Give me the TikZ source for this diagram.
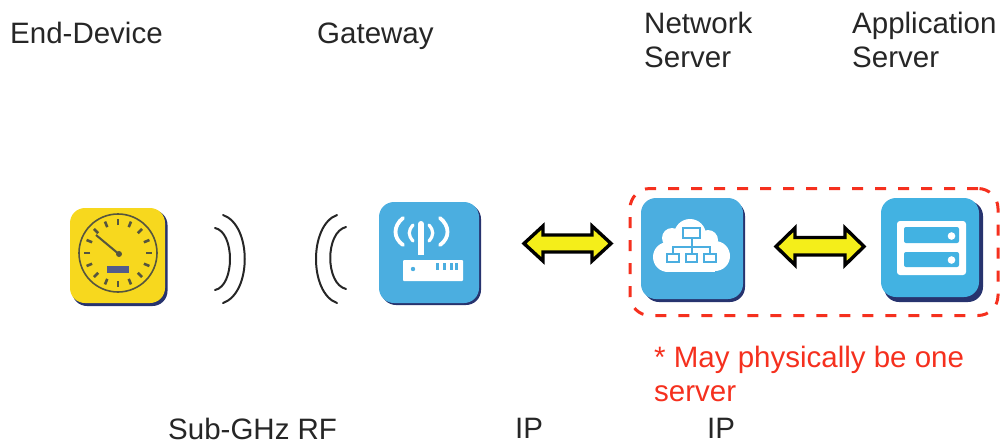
\documentclass[tikz,border=0pt]{standalone}
\usepackage{fontspec}
\setmainfont{Liberation Sans}
\definecolor{icoblue}{HTML}{4BAEE0}
\definecolor{icoblue2}{HTML}{42B2E2}
\definecolor{icoshadow}{HTML}{27336E}
\definecolor{icoyellow}{HTML}{F7D81E}
\definecolor{dialc}{HTML}{55553F}
\definecolor{redd}{HTML}{F5301E}
\definecolor{arrowy}{HTML}{F4EE1A}
\tikzset{
  x=1pt,y=-1pt,
  lbl/.style={font=\fontsize{29.5}{34}\selectfont,text=black!85,inner sep=0pt,align=left,anchor=west},
  rednote/.style={font=\fontsize{29.5}{34}\selectfont,text=redd,inner sep=0pt,align=left,anchor=west},
  dbl/.style={draw=black,line width=3.4pt,fill=arrowy,line join=miter},
  icon/.style={rounded corners=15pt,fill=icoblue},
  shadow/.style={rounded corners=15pt,fill=icoshadow},
  wave/.style={draw=black!85,line width=2pt,line cap=round},
}
\begin{document}
\begin{tikzpicture}
\useasboundingbox (0,0) rectangle (1000,445);
% labels
\node[lbl] (t1) at (10,33) {End-Device};
\node[lbl] (t2) at (317,36) {Gateway};
\node[lbl] (t3) at (644,40) {Network\\Server};
\node[lbl] (t4) at (852,40) {Application\\Server};
\node[lbl] (t5) at (168,429) {Sub-GHz RF};
\node[lbl] (t6) at (515,428) {IP};
\node[lbl] (t7) at (707,428) {IP};
\node[rednote] (t8) at (654,374) {* May physically be one\\server};
% meter icon
\fill[shadow] (72,210) rectangle (167.5,306);
\fill[rounded corners=15pt,fill=icoyellow] (70,208) rectangle (165,303);
\draw[dialc,line width=1.6pt] (118,253) circle (39);
\foreach \a in {0,22.5,...,359}{
  \draw[dialc,line width=2.6pt] ({118+cos(\a)*28},{253+sin(\a)*28}) -- ({118+cos(\a)*34},{253+sin(\a)*34});
}
\draw[dialc,line width=2pt] (120,255) -- (96,235);
\fill[dialc] (119,254) circle (3);
\fill[icoshadow!80] (107,266) rectangle (129,273);
% waves
\draw[wave] (215,228) .. controls (235,232) and (235,286) .. (215,290);
\draw[wave] (223,215) .. controls (252,225) and (252,293) .. (223,303);
\draw[wave] (346,227) .. controls (325,232) and (325,284) .. (346,289);
\draw[wave] (337,215) .. controls (309,225) and (309,293) .. (337,303);
% gateway icon
\fill[shadow] (381,204) rectangle (481,305);
\fill[icon] (379,202) rectangle (479,303);
\fill[white] (418,224) rectangle (424,255);
\fill[white] (421,224) circle (3);
\draw[white,line width=3.2pt,line cap=round] (413,225) .. controls (408,231) and (408,235) .. (413,241);
\draw[white,line width=3.2pt,line cap=round] (429,225) .. controls (434,231) and (434,235) .. (429,241);
\draw[white,line width=3.8pt,line cap=round] (403,218) .. controls (393,226) and (393,238) .. (403,245);
\draw[white,line width=3.8pt,line cap=round] (440,218) .. controls (450,226) and (450,238) .. (440,245);
\fill[white,rounded corners=1pt] (403,260) rectangle (463,281);
\fill[icoblue] (413,269) circle (2.2);
\foreach \x in {436,443,450,455}{\fill[icoblue] (\x,263) rectangle +(2.5,6.5);}
% arrows
\path[dbl] (524,243.5) -- (543,226) -- (543,235) -- (592,235) -- (592,226) -- (611,243.5) -- (592,261) -- (592,252) -- (543,252) -- (543,261) -- cycle;
\path[dbl] (776,246.5) -- (795,228) -- (795,237.5) -- (845,237.5) -- (845,228) -- (864,246.5) -- (845,265) -- (845,255) -- (795,255) -- (795,265) -- cycle;
% network icon
\fill[shadow] (644,201) rectangle (745,302);
\fill[icon] (641,198) rectangle (743,299);
\fill[white] (668,257) circle (15);
\fill[white] (672,238) circle (10);
\fill[white] (690,235) circle (16);
\fill[white] (708,240) circle (10);
\fill[white] (715,256) circle (15);
\fill[white] (668,245) rectangle (715,272);
\draw[icoblue,line width=2pt] (683,228) rectangle (700,238);
\draw[icoblue,line width=2pt] (691.5,238) -- (691.5,254) (672.5,254) -- (672.5,247) -- (710,247) -- (710,254);
\draw[icoblue,line width=2pt] (667,254) rectangle (679,262) (686,254) rectangle (697,262) (704,254) rectangle (716,262);
% server icon
\fill[shadow] (884,201) rectangle (983,302);
\fill[rounded corners=15pt,fill=icoblue2] (881,198) rectangle (979,297);
\fill[white,rounded corners=3pt] (897,221) rectangle (966,275);
\fill[icoblue2,rounded corners=2pt] (904,227) rectangle (959,243);
\fill[icoblue2,rounded corners=2pt] (904,252) rectangle (959,267);
\fill[white] (951.5,236) circle (3.8);
\fill[white] (951.5,260) circle (3.8);
% dashed group
\node[draw=redd,line width=3pt,dash pattern=on 11pt off 12pt,rounded corners=20pt,minimum width=368pt,minimum height=127pt,inner sep=0pt] (grp) at (814,252) {};
\end{tikzpicture}
\end{document}
